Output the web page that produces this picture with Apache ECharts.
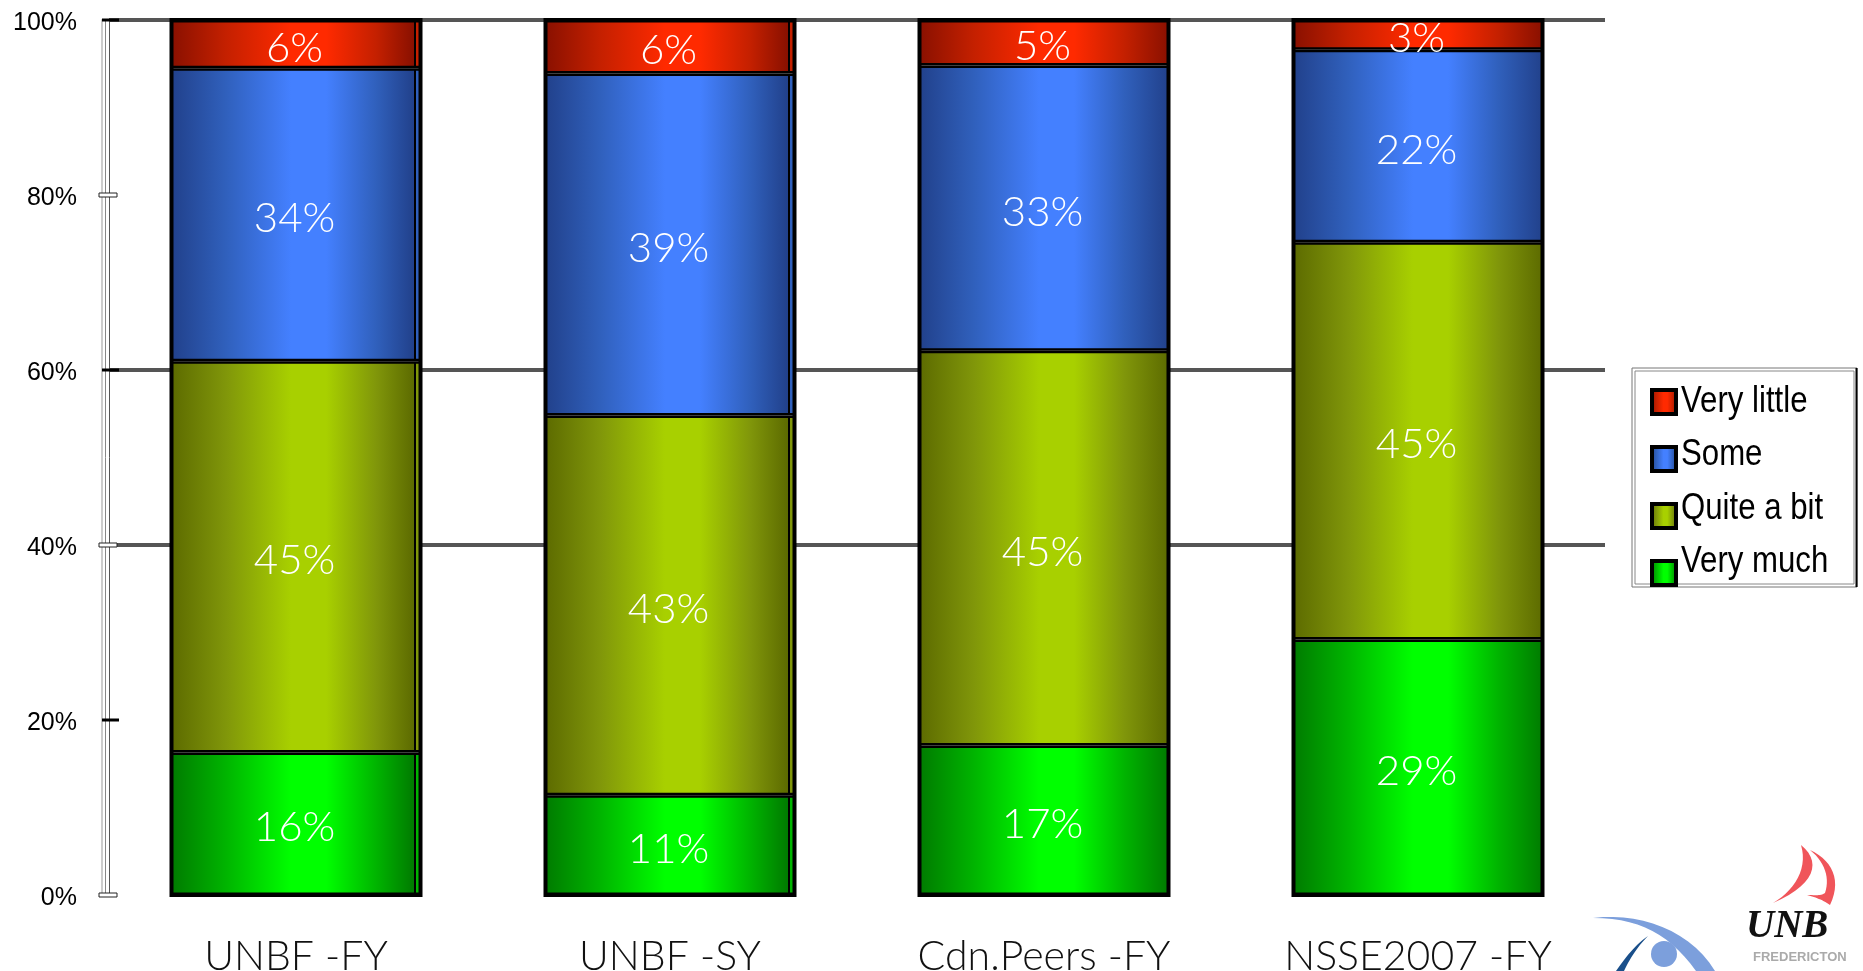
<!DOCTYPE html>
<html>
<head>
<meta charset="utf-8">
<style>html,body{margin:0;padding:0;background:#fff}#c{width:1863px;height:971px}</style>
<script src="https://cdn.jsdelivr.net/npm/echarts@6/dist/echarts.min.js"></script>
</head>
<body>
<div id="c"></div>
<script>
const categories = ['UNBF -FY', 'UNBF -SY', 'Cdn.Peers -FY', 'NSSE2007 -FY'];
const veryMuch = [16.3, 11.4, 17.1, 29.2];
const quiteABit = [44.7, 43.4, 45.1, 45.4];
const some = [33.5, 39.1, 32.6, 22.0];
const veryLittle = [5.5, 6.1, 5.2, 3.4];
const gridLineValues = [40, 60, 100];
const solidTicks = [20, 60, 100];
const hollowTicks = [0, 40, 80];
const legendOrder = ['Very little', 'Some', 'Quite a bit', 'Very much'];

const totals = categories.map((_, i) => veryMuch[i] + quiteABit[i] + some[i] + veryLittle[i]);
// segments whose lower edge shows a thin second line in the reference
const doubleEdges = [
  [0, veryMuch[0] + quiteABit[0]],
  [1, veryMuch[1]],
  [1, veryMuch[1] + quiteABit[1]],
  [2, veryMuch[2] + quiteABit[2]],
  [3, veryMuch[3] + quiteABit[3]],
  [3, veryMuch[3] + quiteABit[3] + some[3]]
];

function grad(dark, mid, bright, strip) {
  const stops = [
    {offset: 0, color: dark},
    {offset: 0.22, color: mid},
    {offset: 0.48, color: bright},
    {offset: 0.62, color: bright},
    {offset: 0.82, color: mid}
  ];
  if (strip) {
    stops.push({offset: 0.972, color: dark}, {offset: 0.972, color: '#000'},
               {offset: 0.977, color: '#000'}, {offset: 0.977, color: mid}, {offset: 1, color: mid});
  } else {
    stops.push({offset: 1, color: dark});
  }
  return {type: 'linear', x: 0, y: 0, x2: 1, y2: 0, colorStops: stops};
}
const STRIP_BARS = [true, true, false, false];
function barSeries(name, values, c) {
  return {
    name, type: 'bar', stack: 'total', barWidth: 251, z: 3,
    data: values.map((v, i) => ({value: v, itemStyle: {color: grad(c[0], c[1], c[2], STRIP_BARS[i])}})),
    itemStyle: {color: grad(c[0], c[1], c[2], false), borderColor: '#000', borderWidth: 2.5},
    label: {
      show: true, position: 'inside', color: '#fff', fontFamily: 'Lato', fontWeight: 300,
      fontSize: 42, offset: [-1.5, 4], formatter: p => Math.round(p.value) + '%'
    },
    emphasis: {disabled: true}
  };
}
function tickSeries(values, hollow) {
  return {
    type: 'custom', z: 6, silent: true, clip: false,
    data: values.map(v => [0, v]),
    renderItem(params, api) {
      const y = api.coord([0, api.value(1)])[1];
      const x = params.coordSys.x;
      return hollow
        ? {type: 'rect', shape: {x: x - 10, y: y - 2, width: 18, height: 4}, style: {fill: '#fff', stroke: '#222', lineWidth: 1}}
        : {type: 'rect', shape: {x: x - 7, y: y - 1.5, width: 17, height: 3}, style: {fill: '#000'}};
    }
  };
}
const frameSeries = {
  type: 'custom', z: 5, silent: true, clip: false,
  data: totals.map((t, i) => [i, t]),
  renderItem(params, api) {
    const top = api.coord([api.value(0), api.value(1)]);
    const bottom = api.coord([api.value(0), 0]);
    const w = 249;
    return {type: 'rect', shape: {x: top[0] - w / 2, y: top[1], width: w, height: bottom[1] - top[1]},
            style: {fill: 'none', stroke: '#000', lineWidth: 4}};
  }
};
const edgeSeries = {
  type: 'custom', z: 3, silent: true,
  data: doubleEdges,
  renderItem(params, api) {
    const p = api.coord([api.value(0), api.value(1)]);
    const w = 249;
    return {type: 'line', shape: {x1: p[0] - w / 2, y1: p[1] - 5.5, x2: p[0] + w / 2, y2: p[1] - 5.5},
            style: {stroke: '#04102a', lineWidth: 1.2}};
  }
};
// decorative logo outlines: cubic segments flattened into polygons
function flat(start, curves) {
  const pts = [start];
  let p = start;
  curves.forEach(c => {
    for (let i = 1; i <= 14; i++) {
      const t = i / 14, u = 1 - t;
      pts.push([
        u*u*u*p[0] + 3*u*u*t*c[0] + 3*u*t*t*c[2] + t*t*t*c[4],
        u*u*u*p[1] + 3*u*u*t*c[1] + 3*u*t*t*c[3] + t*t*t*c[5]
      ]);
    }
    p = [c[4], c[5]];
  });
  return pts;
}
const legendRowY = [402, 455, 509, 562];
const chart = echarts.init(document.getElementById('c'), null, {renderer: 'canvas'});
const commonY = {type: 'value', min: 0, max: 100, interval: 20, position: 'left', splitLine: {show: false}, axisTick: {show: false}};
chart.setOption({
  animation: false,
  backgroundColor: '#fff',
  grid: {left: 109, top: 20, width: 1496, height: 875, containLabel: false, outerBoundsMode: 'none'},
  xAxis: {
    type: 'category', data: categories,
    axisLine: {show: false}, axisTick: {show: false},
    axisLabel: {color: '#111', fontFamily: 'Lato', fontWeight: 300, fontSize: 41, margin: 41, interval: 0}
  },
  yAxis: [
    Object.assign({}, commonY, {
      axisLine: {show: true, lineStyle: {color: '#555', width: 1}},
      axisLabel: {color: '#000', fontFamily: 'Liberation Sans', fontSize: 25, margin: 32, verticalAlign: 'top',
                  formatter: '{value}%', lineHeight: 6}
    }),
    Object.assign({}, commonY, {offset: 4, axisLine: {show: true, lineStyle: {color: '#888', width: 1}}, axisLabel: {show: false}}),
    Object.assign({}, commonY, {offset: 7, axisLine: {show: true, lineStyle: {color: '#ccc', width: 2}}, axisLabel: {show: false}})
  ],
  legend: {
    data: legendOrder, orient: 'vertical', left: 1650, top: 388, padding: 0,
    itemWidth: 24, itemHeight: 24, itemGap: 29, icon: 'rect',
    selectedMode: false, z: 4,
    itemStyle: {borderColor: '#000', borderWidth: 4},
    formatter: () => '',
    textStyle: {fontSize: 12}
  },
  series: [
    {
      type: 'line', data: [], silent: true, z: 1,
      markLine: {
        silent: true, symbol: 'none', z: 1, label: {show: false}, animation: false,
        lineStyle: {color: '#555', width: 4, type: 'solid'},
        data: gridLineValues.map(v => ({yAxis: v}))
      }
    },
    barSeries('Very much', veryMuch, ['#007a00', '#00b400', '#00ff00']),
    barSeries('Quite a bit', quiteABit, ['#5c6a00', '#80960a', '#a8d000']),
    barSeries('Some', some, ['#21408a', '#3060bc', '#4480ff']),
    barSeries('Very little', veryLittle, ['#881000', '#c42000', '#ff2a00']),
    edgeSeries,
    frameSeries,
    tickSeries(solidTicks, false),
    tickSeries(hollowTicks, true)
  ],
  graphic: [
    {type: 'rect', z: 0, shape: {x: 1632, y: 368, width: 225, height: 219}, style: {fill: '#fff', stroke: '#777', lineWidth: 1}},
    {type: 'rect', z: 0, shape: {x: 1635, y: 371, width: 219, height: 213}, style: {fill: '#fff', stroke: '#888', lineWidth: 1}},
    {type: 'line', z: 1, shape: {x1: 1856.5, y1: 368, x2: 1856.5, y2: 587}, style: {stroke: '#000', lineWidth: 2}}
  ].concat(legendOrder.map((t, i) => ({
    type: 'text', z: 5, x: 1681, y: legendRowY[i], scaleX: 0.866,
    style: {text: t, fill: '#000', font: '36px "Liberation Sans"', verticalAlign: 'middle', textVerticalAlign: 'middle'}
  }))).concat([
    {type: 'polygon', z: 1, shape: {points: flat([1801, 845], [[1822,862,1815,885,1773,903],[1795,890,1808,868,1801,845]])}, style: {fill: '#f0555a'}},
    {type: 'polygon', z: 1, shape: {points: flat([1810, 850], [[1832,860,1842,880,1830,905],[1823,900,1815,897,1807,895],[1815,895,1821,896,1825,893],[1830,878,1825,862,1810,850]])}, style: {fill: '#f0555a'}},
    {type: 'text', z: 1, x: 1746, y: 907, style: {text: 'UNB', fill: '#111', font: 'italic bold 39px "Liberation Serif"'}},
    {type: 'text', z: 1, x: 1753, y: 951, style: {text: 'FREDERICTON', fill: '#aaa', font: 'bold 13px "Liberation Sans"'}},
    {type: 'polygon', z: 1, shape: {points: flat([1593, 918], [[1640,912,1690,930,1715,971],[1709,971,1702,971,1696,971],[1670,935,1640,918,1593,918]])}, style: {fill: '#7c9fdc'}},
    {type: 'circle', z: 1, shape: {cx: 1664, cy: 954, r: 13}, style: {fill: '#7c9fdc'}},
    {type: 'polygon', z: 1, shape: {points: flat([1648, 936], [[1635,945,1625,958,1616,971],[1619,971,1621,971,1624,971],[1630,958,1638,946,1648,936]])}, style: {fill: '#1a4f8a'}}
  ])
});
</script>
</body>
</html>
